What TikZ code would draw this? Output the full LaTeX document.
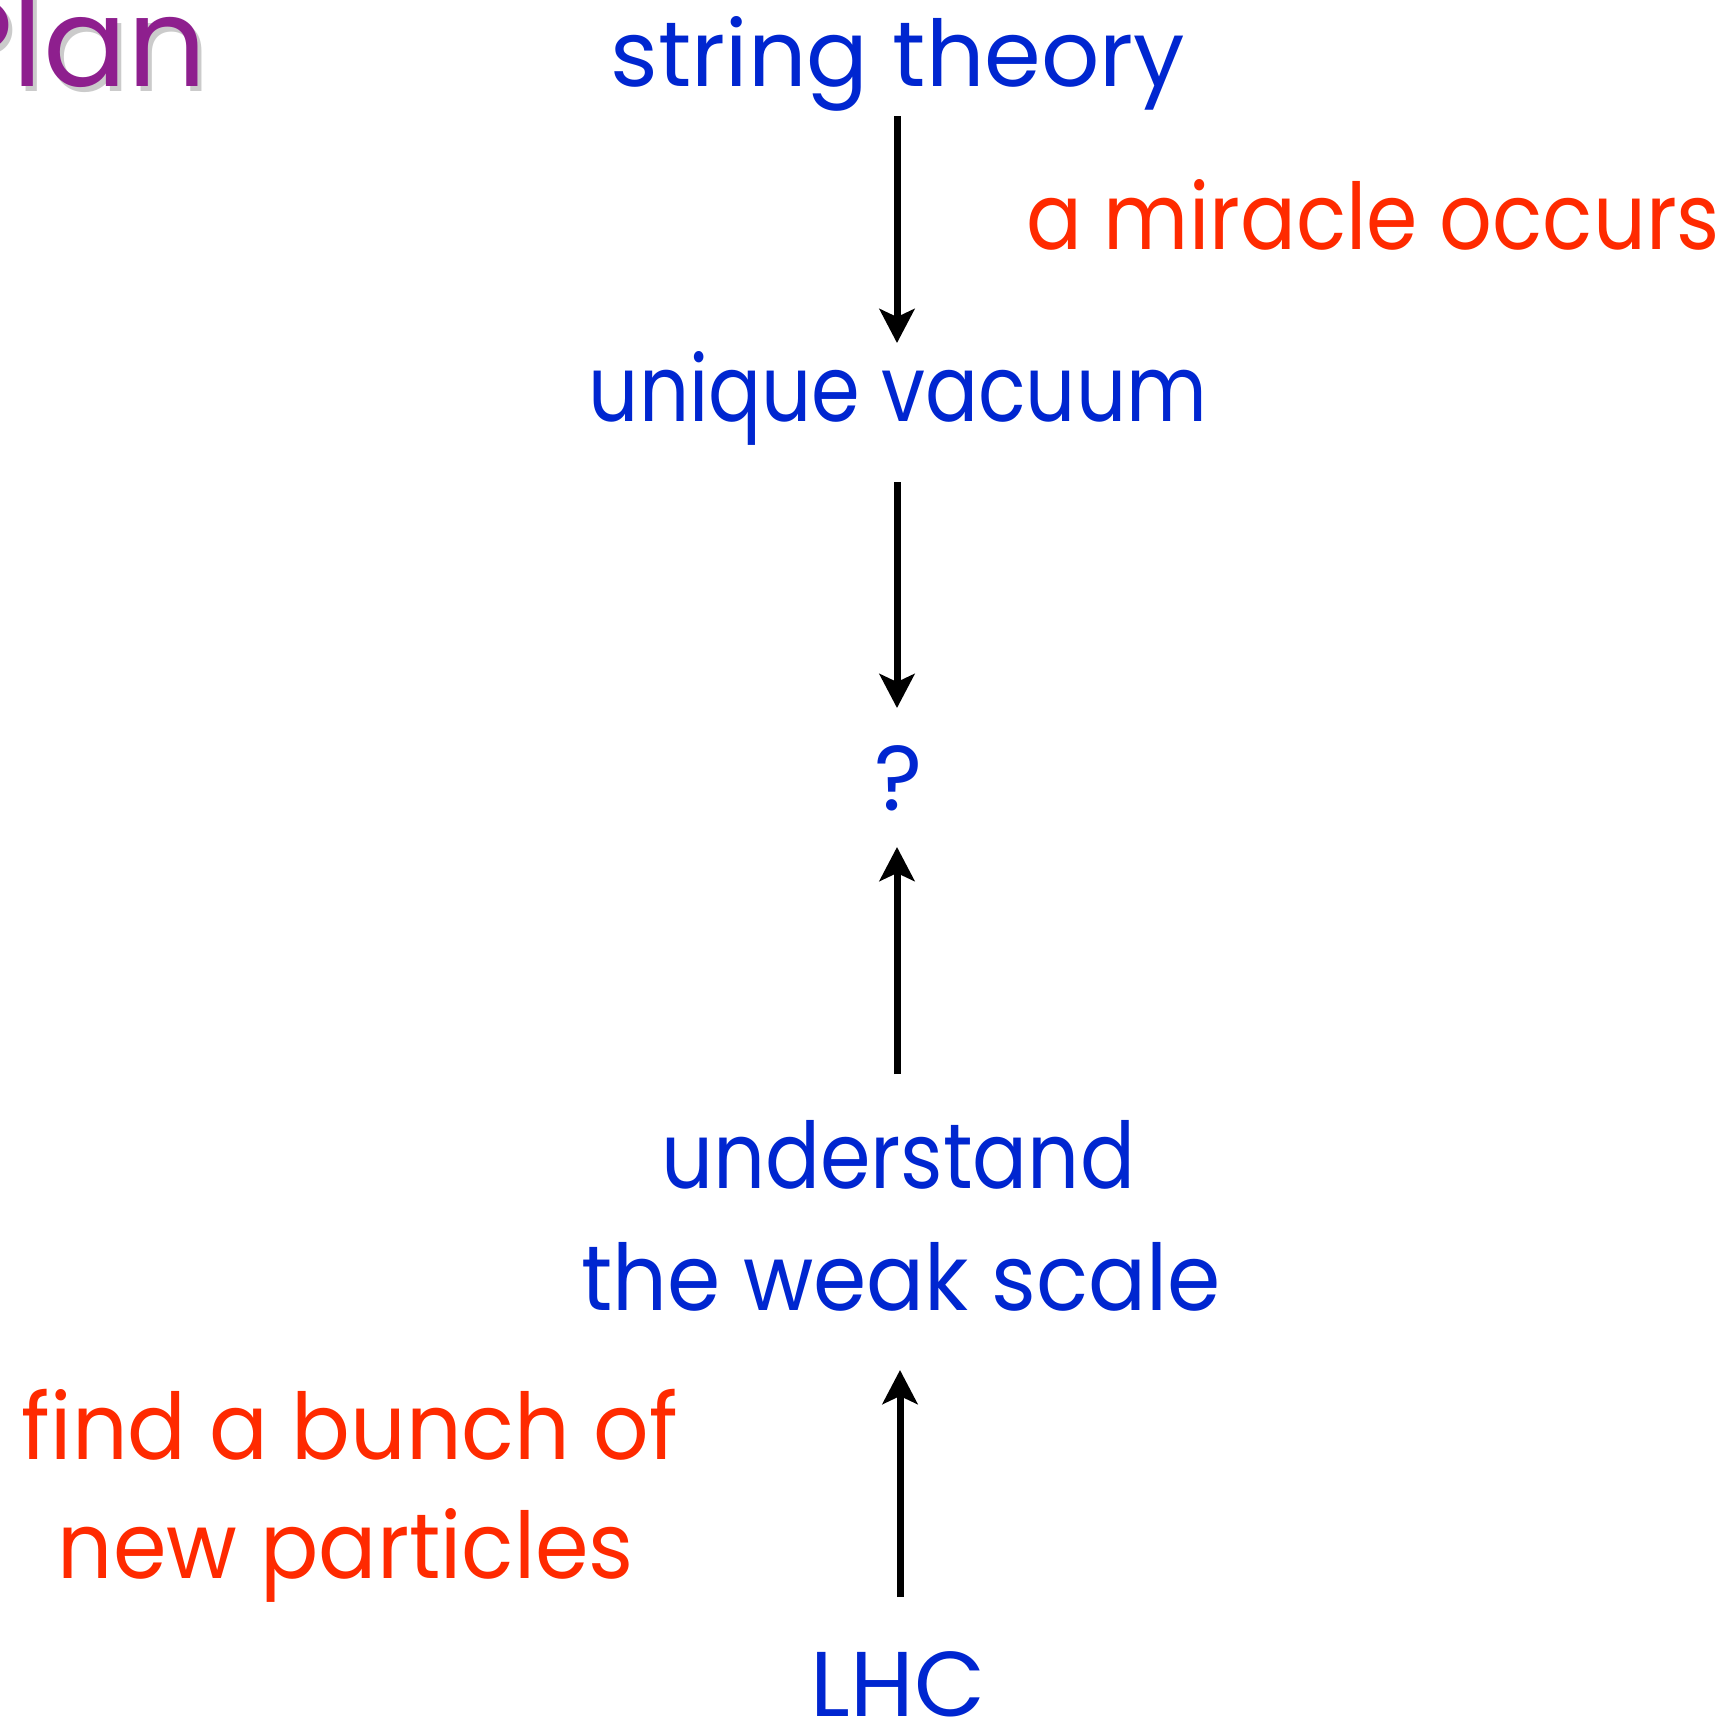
\documentclass[tikz,border=0pt]{standalone}
\usepackage{fontspec}
\setmainfont{Poppins}
\usetikzlibrary{arrows.meta}
\definecolor{tblue}{RGB}{0,38,208}
\definecolor{tred}{RGB}{255,42,0}
\definecolor{tpurple}{RGB}{142,31,142}
\newcommand{\fitw}[2]{\resizebox{#1}{\height}{#2}}
\tikzset{
  lbl/.style={inner sep=0pt, anchor=base, font=\fontsize{46}{52}\selectfont},
  bluelbl/.style={lbl, text=tblue},
  redlbl/.style={lbl, text=tred},
  arr/.style={line width=3.5pt, -{Stealth[width=17.5pt,length=17pt,inset=4pt]}}
}
\begin{document}
\begin{tikzpicture}[x=0.5pt,y=-0.5pt]
\useasboundingbox (0,0) rectangle (1733,1721);
% title
\node[inner sep=0pt, anchor=base east, text=black!45, opacity=0.45, font=\fontsize{62}{70}\selectfont] (planshadow) at (211,91) {Plan};
\node[inner sep=0pt, anchor=base east, text=tpurple, font=\fontsize{62}{70}\selectfont] (plan) at (207,86) {Plan};
% main nodes
\node[bluelbl] (string) at (898,86) {\fitw{287pt}{string theory}};
\node[redlbl] (miracle) at (1373,249) {\fitw{347pt}{a miracle occurs}};
\node[bluelbl] (vacuum) at (898,421) {\fitw{309pt}{unique vacuum}};
\node[bluelbl] (q) at (899,810) {?};
\node[bluelbl] (understand) at (898,1188) {\fitw{237pt}{understand}};
\node[bluelbl] (weak) at (901,1310) {\fitw{320pt}{the weak scale}};
\node[redlbl] (find) at (350,1459) {\fitw{328pt}{find a bunch of}};
\node[redlbl] (newp) at (346,1578) {\fitw{288pt}{new particles}};
\node[bluelbl] (lhc) at (898,1716) {LHC};
% arrow ends
\coordinate (a1s) at (897,116);
\coordinate (a1e) at (897,343);
\coordinate (a2s) at (897,482);
\coordinate (a2e) at (897,708);
\coordinate (a3s) at (897,1074);
\coordinate (a3e) at (897,847);
\coordinate (a4s) at (900,1597);
\coordinate (a4e) at (900,1370);
\draw[arr] (a1s) -- (a1e);
\draw[arr] (a2s) -- (a2e);
\draw[arr] (a3s) -- (a3e);
\draw[arr] (a4s) -- (a4e);
\end{tikzpicture}
\end{document}
